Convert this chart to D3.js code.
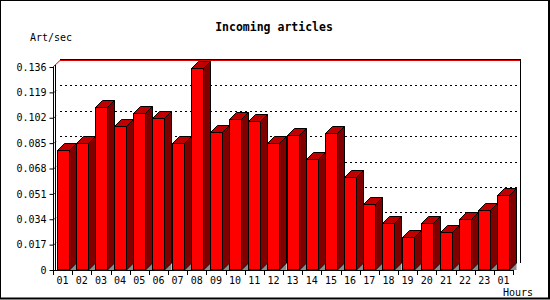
<!DOCTYPE html>
<html>
<head>
<meta charset="utf-8">
<script src="https://cdn.jsdelivr.net/npm/d3@7"></script>
<style>
  body { margin: 0; background: #fff; }
  svg { display: block; }
  text { font-family: "DejaVu Sans Mono", monospace; }
</style>
</head>
<body>
<svg id="canvas"></svg>
<script>
// data
let hours = ["01","02","03","04","05","06","07","08","09","10","11","12",
             "13","14","15","16","17","18","19","20","21","22","23","01"]
let artPerSec = [0.0804, 0.0849, 0.109, 0.0965, 0.1054, 0.1016, 0.0849, 0.1351,
                 0.0922, 0.1012, 0.0998, 0.0849, 0.0902, 0.0744, 0.0916, 0.0621,
                 0.0442, 0.0313, 0.0219, 0.0313, 0.0253, 0.0340, 0.0400, 0.0503]
let yTicks = [0, 0.017, 0.034, 0.051, 0.068, 0.085, 0.102, 0.119, 0.136]
let yTickLabels = ["0","0.017","0.034","0.051","0.068","0.085","0.102","0.119","0.136"]

let width = 550
let height = 300
let plotLeft = 53
let plotRight = 513
let plotBottom = 270
let plotTop = 67
let depth = 7

let canvas = d3.select("#canvas")
    .attr("width", width)
    .attr("height", height)

// frame
canvas.append("rect")
    .attr("x", 0).attr("y", 0)
    .attr("width", 549).attr("height", 298.5)
    .attr("fill", "#fff")
    .attr("stroke", "#000")
    .attr("stroke-width", 2)

let xScale = d3.scaleBand()
    .domain(d3.range(hours.length))
    .range([plotLeft, plotRight])
    .padding(0)

let yScale = d3.scaleLinear()
    .domain([0, 0.136])
    .range([plotBottom, plotTop])

let bw = 12

// back plane grid
let back = canvas.append("g")
back.selectAll("line.grid")
    .data(yTicks.slice(1, -1))
    .enter()
    .append("line")
    .attr("class", "grid")
    .attr("x1", plotLeft + depth)
    .attr("x2", plotRight + depth)
    .attr("y1", d => Math.round(yScale(d) - depth) + 0.5)
    .attr("y2", d => Math.round(yScale(d) - depth) + 0.5)
    .attr("stroke", "#000")
    .attr("stroke-dasharray", "2,3")

let topY = Math.round(yScale(0.136) - depth)
back.append("line")
    .attr("x1", plotLeft + depth).attr("x2", plotRight + depth + 0.5)
    .attr("y1", topY - 0.5).attr("y2", topY - 0.5)
    .attr("stroke", "#000")
back.append("line")
    .attr("x1", plotLeft + depth).attr("x2", plotRight + depth)
    .attr("y1", topY + 0.5).attr("y2", topY + 0.5)
    .attr("stroke", "#e00000")
back.append("line")
    .attr("x1", plotLeft).attr("y1", yScale(0.136))
    .attr("x2", plotLeft + depth).attr("y2", topY + 0.5)
    .attr("stroke", "#e00000")
back.append("line")
    .attr("x1", plotRight + depth + 0.5).attr("x2", plotRight + depth + 0.5)
    .attr("y1", topY - 1).attr("y2", plotBottom - depth)
    .attr("stroke", "#000")
back.append("line")
    .attr("x1", plotLeft + 2.5).attr("x2", plotLeft + 2.5)
    .attr("y1", yScale(0.136) - 2).attr("y2", plotBottom)
    .attr("stroke", "#000")
back.selectAll("line.side")
    .data(yTicks.slice(1, -1))
    .enter()
    .append("line")
    .attr("class", "side")
    .attr("x1", plotLeft + 1.5).attr("x2", plotLeft + 3)
    .attr("y1", d => yScale(d)).attr("y2", d => yScale(d) - 2)
    .attr("stroke", "#000")

// bars
let bars = canvas.selectAll("g.bar")
    .data(artPerSec)
    .enter()
    .append("g")
    .attr("class", "bar")

let xl = i => Math.round(xScale(i) + xScale.bandwidth() / 2 - bw / 2) + 0.5
let xr = i => xl(i) + bw
let yt = d => Math.round(yScale(d)) + 0.5

bars.append("polygon")
    .attr("points", (d, i) => [[xr(i), plotBottom], [xr(i) + depth, plotBottom - depth], [xr(i) + depth, plotBottom]].join(" "))
    .attr("fill", "#8c8c8c")
bars.append("polygon")
    .attr("points", (d, i) => [[xr(i), yt(d)], [xr(i) + depth, yt(d) - depth],
                               [xr(i) + depth, plotBottom - depth], [xr(i), plotBottom]].join(" "))
    .attr("fill", "#800000")
    .attr("stroke", "#000")
bars.append("polygon")
    .attr("points", (d, i) => [[xl(i), yt(d)], [xl(i) + depth, yt(d) - depth],
                               [xr(i) + depth, yt(d) - depth], [xr(i), yt(d)]].join(" "))
    .attr("fill", "#c00000")
    .attr("stroke", "#000")
bars.append("rect")
    .attr("x", (d, i) => xl(i))
    .attr("y", d => yt(d))
    .attr("width", bw)
    .attr("height", d => plotBottom - yt(d))
    .attr("fill", "#ff0000")
    .attr("stroke", "#000")

// axes
let yAxis = d3.axisLeft(yScale)
    .tickValues(yTicks)
    .tickFormat((d, i) => yTickLabels[i])
    .tickSize(4)
    .tickPadding(3)

canvas.append("g")
    .attr("id", "y-axis")
    .attr("transform", "translate(" + (plotLeft + 0.5) + ",0)")
    .call(yAxis)
    .call(g => g.select(".domain").attr("d", "M0," + yScale(0.136) + "V" + plotBottom))
    .selectAll("text")
    .attr("font-size", 10)
    .attr("font-family", "DejaVu Sans Mono")

let xAxis = d3.axisBottom(xScale)
    .tickFormat(i => hours[i])
    .tickSize(0)
    .tickPadding(6)

canvas.append("g")
    .attr("id", "x-axis")
    .attr("transform", "translate(0," + (plotBottom + 0.5) + ")")
    .call(xAxis)
    .call(g => g.select(".domain").attr("d", "M" + plotLeft + ",0H" + (plotRight + 0.5)))
    .selectAll("text")
    .attr("font-size", 10)
    .attr("font-family", "DejaVu Sans Mono")

canvas.append("g")
    .selectAll("line")
    .data(d3.range(hours.length + 1))
    .enter()
    .append("line")
    .attr("x1", i => Math.round(plotLeft + i * xScale.bandwidth()) + 0.5)
    .attr("x2", i => Math.round(plotLeft + i * xScale.bandwidth()) + 0.5)
    .attr("y1", plotBottom)
    .attr("y2", plotBottom + 5)
    .attr("stroke", "#000")

// texts
canvas.append("text")
    .attr("x", 274).attr("y", 31)
    .attr("text-anchor", "middle")
    .attr("font-size", 11.5)
    .attr("font-weight", "bold")
    .text("Incoming articles")

canvas.append("text")
    .attr("x", 30).attr("y", 41)
    .attr("font-size", 10)
    .text("Art/sec")

canvas.append("text")
    .attr("x", 533).attr("y", 296)
    .attr("text-anchor", "end")
    .attr("font-size", 10)
    .text("Hours")
</script>
</body>
</html>
